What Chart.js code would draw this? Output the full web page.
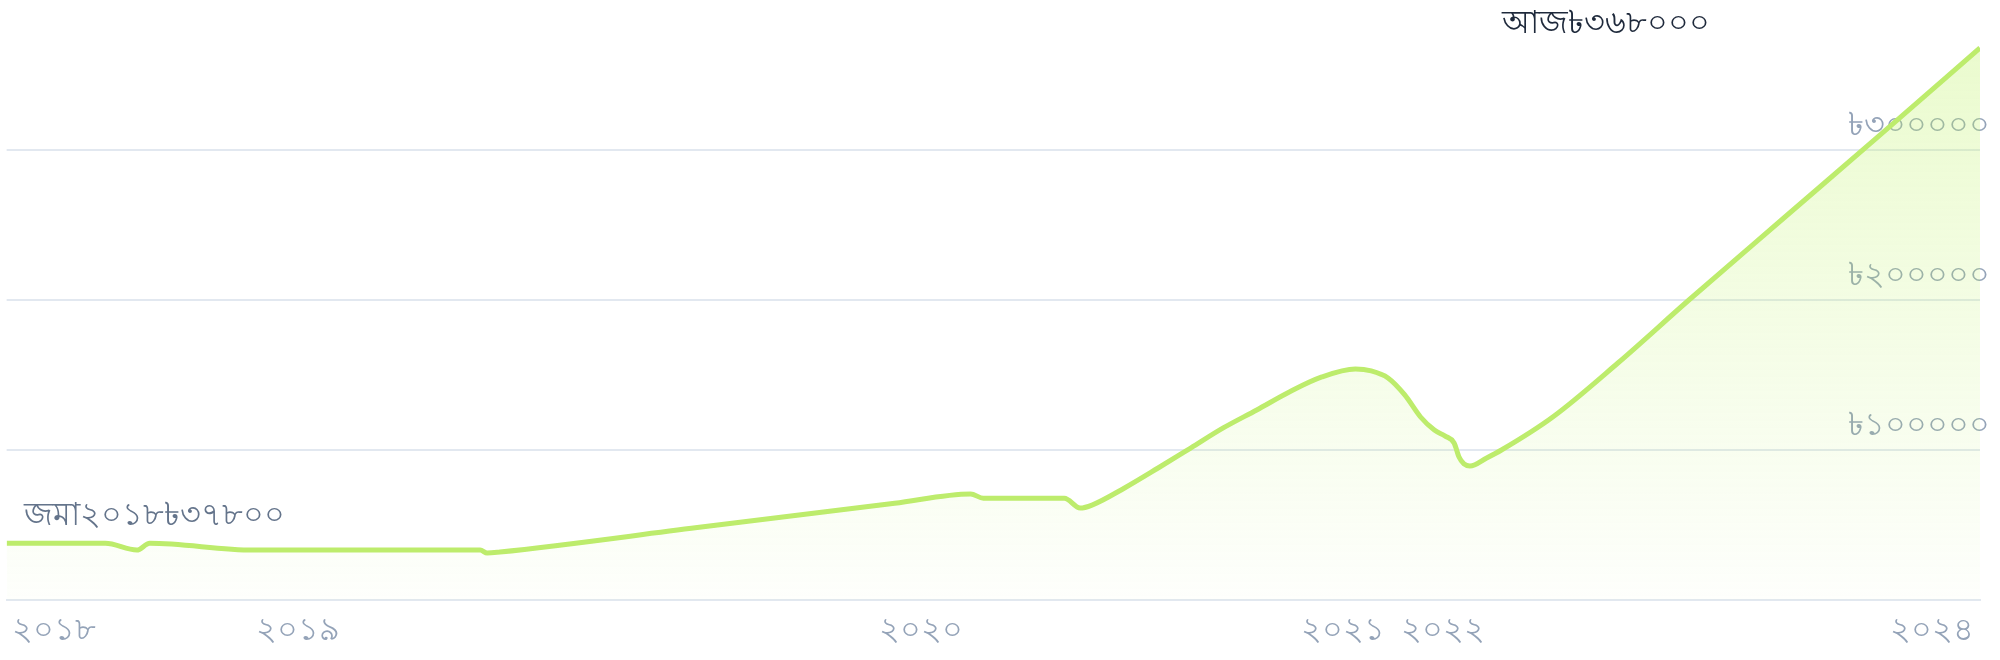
<!DOCTYPE html>
<html>
<head>
<meta charset="utf-8">
<script src="https://cdn.jsdelivr.net/npm/chart.js@4"></script>
<style>
  html, body { margin: 0; padding: 0; background: #fff; }
  #wrap { position: relative; width: 2000px; height: 660px; }
</style>
</head>
<body>
<div id="wrap"><canvas id="growthChart"></canvas></div>
<script>
// days since start, and value in thousands
const days = [0, 100, 132, 145, 250, 480, 487, 500, 700, 900, 977, 990, 1072, 1088, 1100, 1133, 1167, 1200, 1233, 1267, 1300, 1333, 1367, 1383, 1400, 1417, 1433, 1447, 1458, 1467, 1472, 1477, 1483, 1500, 1515, 1567, 1633, 1705, 1800, 1900, 2000];
const values = [37.8, 37.8, 33.3, 37.8, 33.3, 33.3, 31.3, 32.0, 48.3, 64.5, 70.7, 67.8, 67.8, 61.3, 63.3, 74.7, 88.0, 101.3, 114.7, 126.7, 138.7, 148.7, 154.0, 152.7, 148.0, 136.7, 122.0, 113.3, 109.3, 104.7, 95.3, 90.7, 89.3, 94.7, 100.0, 122.0, 158.0, 200.0, 254.0, 310.7, 368.0];

const tickDays = [48, 295, 927, 1354, 1456, 1951];
const tickLabels = ['২০১৮', '২০১৯', '২০২০', '২০২১', '২০২২', '২০২৪'];

const valueTicks = [100, 200, 300];
const valueLabels = ['৳১০০০০০', '৳২০০০০০', '৳৩০০০০০'];

const startNote = 'জমা২০১৮৳৩৭৮০০';
const endNote = 'আজ৳৩৬৮০০০';

const FONT = "'DejaVu Sans', sans-serif";

const notesPlugin = {
  id: 'notes',
  afterDraw(chart) {
    const { ctx, scales: { x, y } } = chart;
    ctx.save();
    ctx.font = '32px ' + FONT;
    ctx.textBaseline = 'alphabetic';
    ctx.textAlign = 'left';
    ctx.fillStyle = '#64748b';
    ctx.fillText(startNote, x.getPixelForValue(days[0]) + 17, y.getPixelForValue(values[0]) - 18);
    ctx.fillStyle = '#1e293b';
    ctx.fillText(endNote, 1502, 33);
    ctx.restore();
  }
};

const ctx = document.getElementById('growthChart').getContext('2d');

new Chart(ctx, {
  type: 'line',
  data: {
    datasets: [{
      data: days.map((d, i) => ({ x: d, y: values[i] })),
      borderColor: '#bdec6c',
      borderWidth: 5,
      backgroundColor: c => {
        const area = c.chart.chartArea;
        if (!area) return 'rgba(190, 242, 100, 0.15)';
        const g = c.chart.ctx.createLinearGradient(0, area.top, 0, area.bottom);
        g.addColorStop(0, 'rgba(190, 242, 100, 0.34)');
        g.addColorStop(1, 'rgba(190, 242, 100, 0.02)');
        return g;
      },
      fill: 'start',
      pointRadius: 0,
      cubicInterpolationMode: 'monotone'
    }]
  },
  options: {
    responsive: true,
    maintainAspectRatio: false,
    animation: false,
    layout: { padding: 0 },
    plugins: { legend: { display: false }, tooltip: { enabled: false } },
    scales: {
      x: {
        type: 'linear',
        min: 0,
        max: 2000,
        grid: { display: false, drawTicks: false },
        border: { display: true, color: '#e2e8f0', width: 2 },
        afterBuildTicks: s => { s.ticks = tickDays.map(v => ({ value: v })); },
        afterFit: s => { s.height = 60; },
        ticks: {
          autoSkip: false,
          maxRotation: 0,
          padding: 12,
          color: '#94a3b8',
          font: { family: FONT, size: 32 },
          callback: v => tickLabels[tickDays.indexOf(v)]
        }
      },
      y: {
        position: 'right',
        min: 0,
        max: 400,
        grid: { drawTicks: false, lineWidth: 2, color: '#e2e8f0' },
        border: { display: false },
        afterBuildTicks: s => { s.ticks = valueTicks.map(v => ({ value: v })); },
        afterFit: s => { s.paddingTop = 0; s.paddingBottom = 0; },
        ticks: {
          mirror: true,
          padding: 10,
          labelOffset: -23,
          color: '#94a3b8',
          font: { family: FONT, size: 32 },
          callback: v => valueLabels[valueTicks.indexOf(v)]
        }
      }
    }
  },
  plugins: [notesPlugin]
});
</script>
</body>
</html>
